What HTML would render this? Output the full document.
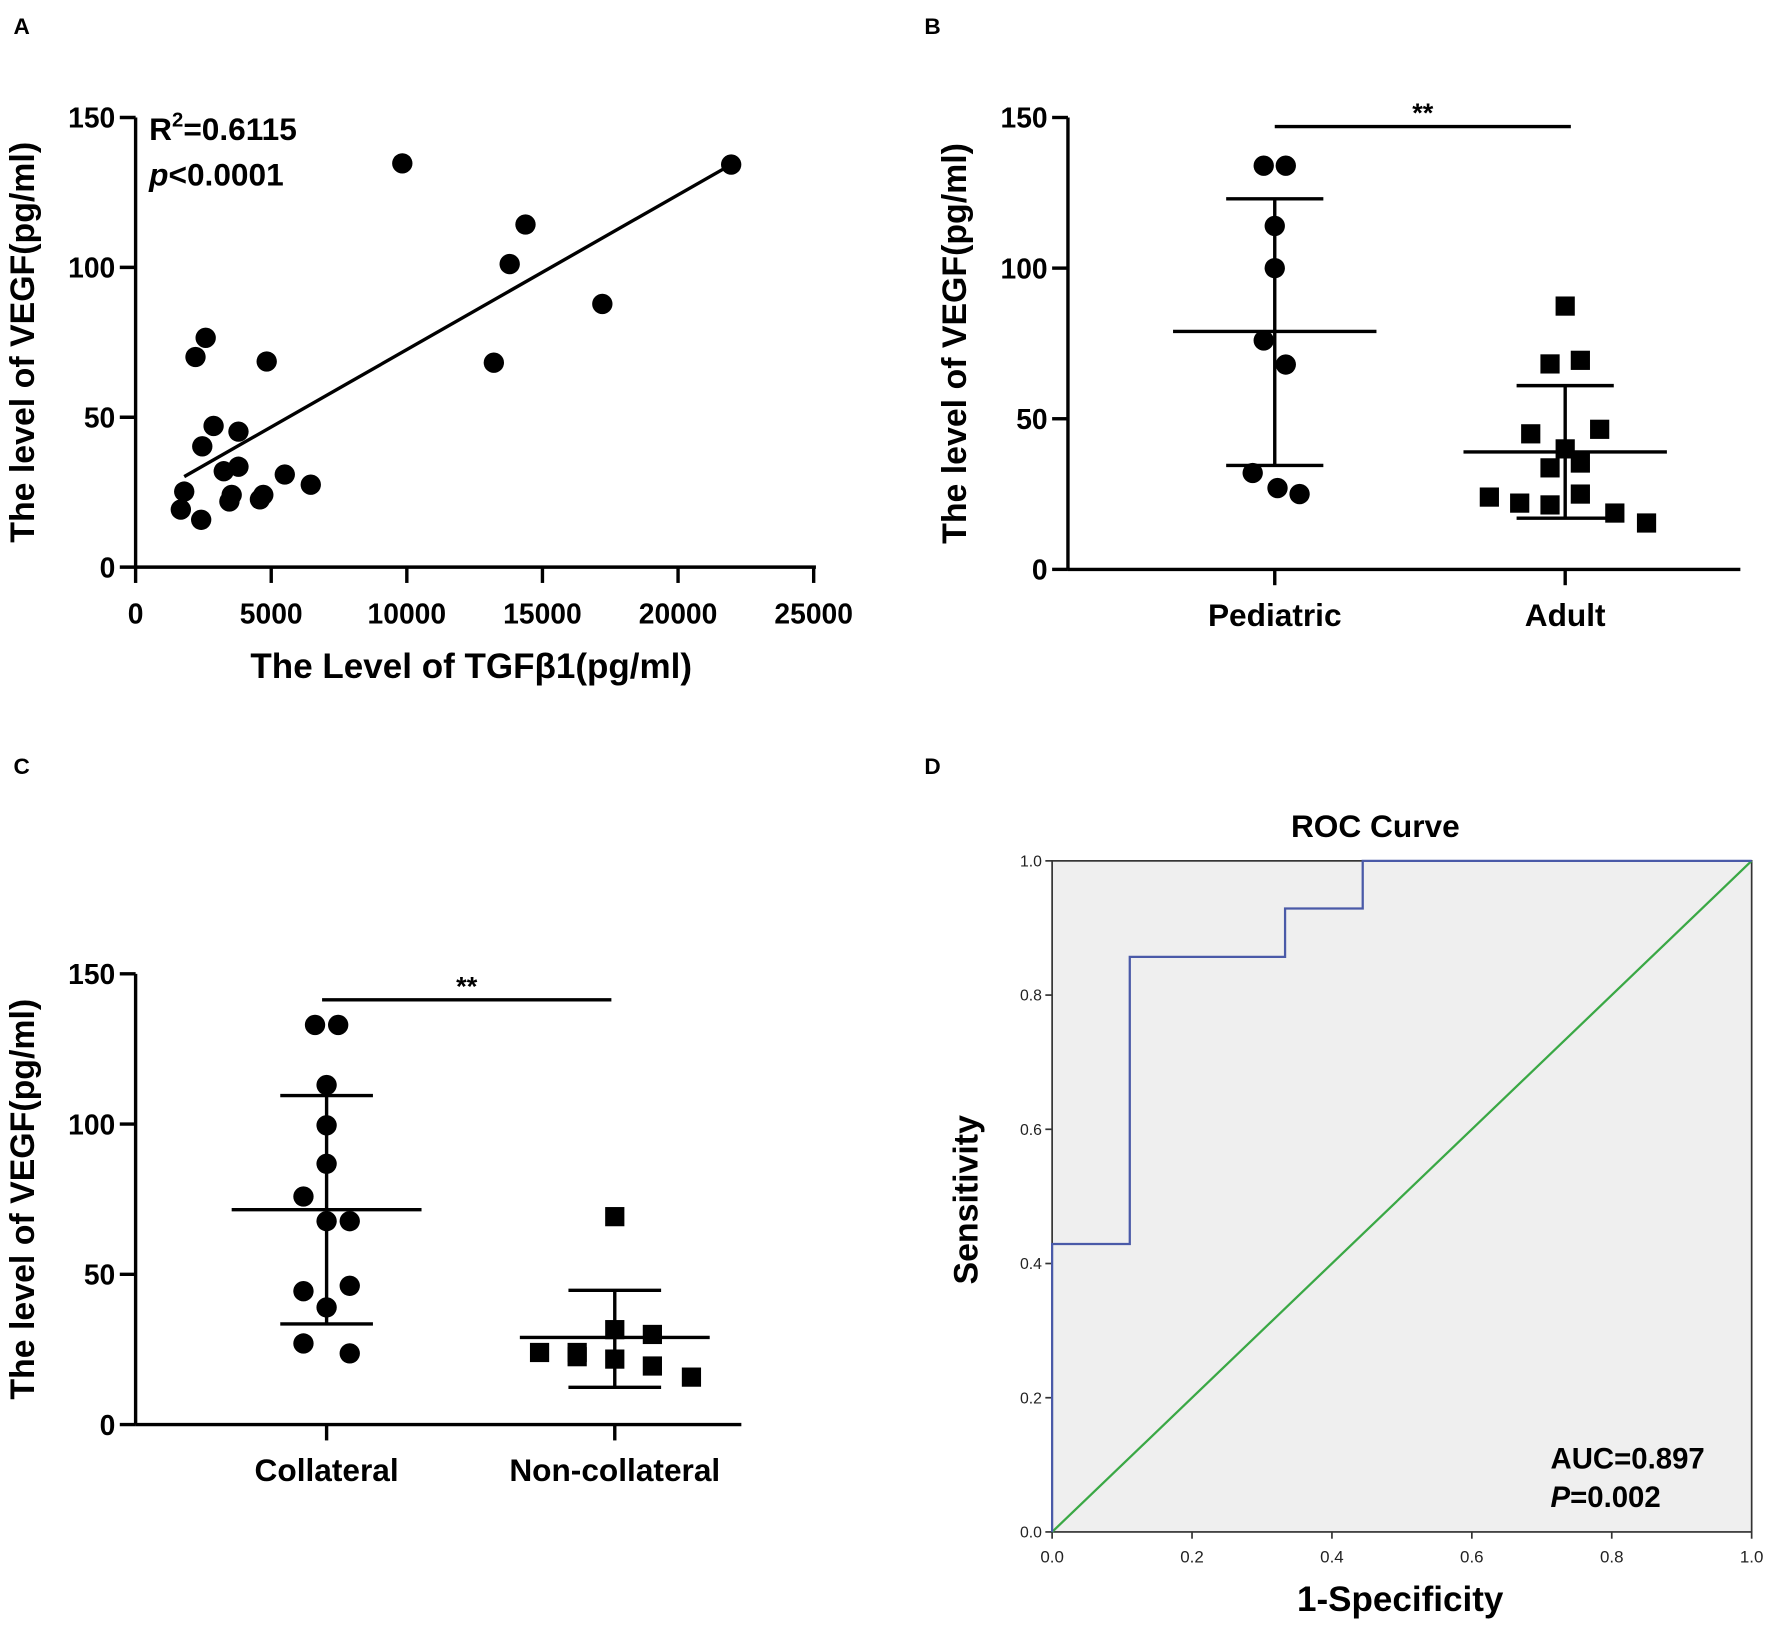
<!DOCTYPE html>
<html><head><meta charset="utf-8"><style>
html,body{margin:0;padding:0;background:#fff;}
svg{display:block;font-family:"Liberation Sans",Arial,sans-serif;}
</style></head><body>
<svg id="fig" width="1772" height="1637" viewBox="0 0 1568 1449" preserveAspectRatio="none" xmlns="http://www.w3.org/2000/svg">
<rect width="1568" height="1449" fill="#fff"/>
<g font-weight="bold" font-size="20">
<text x="12" y="30">A</text>
<text x="818" y="30">B</text>
<text x="12" y="685">C</text>
<text x="818" y="685">D</text>
</g>
<g id="A"></g>
<g id="B"></g>
<g id="C"></g>
<g id="D"></g>
</svg>
<script>
// Panel A data
const aTgf = [9833,21958,14375,13792,17208,2583,2208,4833,13208,2875,3792,2458,3792,3250,5500,6458,1792,3542,4708,3458,4583,1667,2417];
const aVegf = [134.7,134.3,114.3,101.1,87.8,76.5,70.1,68.6,68.2,47.1,45.2,40.3,33.5,32,30.9,27.5,25.2,24.1,24.1,21.9,22.6,19.2,15.8];
const aFitX = [1792,21958];
const aFitY = [30.2,134.3];
const aXTicks = [0,5000,10000,15000,20000,25000];
const vegfTicks = [0,50,100,150];
// Panel B data
const bCats = ["Pediatric","Adult"];
const bPed = [134,134,114,100,76,68,32,27,25];
const bAdult = [87.4,68.2,69.4,45,46.5,40,33.7,35.3,24,22,21.4,25,18.7,15.4];
const bPedX = [-0.08,0.08,0,0,-0.08,0.08,-0.16,0.02,0.18];
const bAdultX = [0,-0.11,0.11,-0.25,0.25,0,-0.11,0.11,-0.55,-0.33,-0.11,0.11,0.36,0.59];
const bMean = [79,39];
const bSdHi = [123,61];
const bSdLo = [34.5,17];
// Panel C data
const cCats = ["Collateral","Non-collateral"];
const cCol = [133,133,113,99.6,86.8,75.9,67.7,67.7,44.4,46.2,39,27,23.7];
const cNon = [69.2,31.6,30,24,24,22.6,21.8,19.5,15.8];
const cColX = [-0.08,0.08,0,0,0,-0.16,0,0.16,-0.16,0.16,0,-0.16,0.16];
const cNonX = [0,0,0.26,-0.52,-0.26,-0.26,0,0.26,0.53];
const cMean = [71.5,29];
const cSdHi = [109.5,44.7];
const cSdLo = [33.5,12.4];
// Panel D data
const rocFpr = [0,0,0.111,0.111,0.333,0.333,0.444,0.444,1];
const rocTpr = [0,0.429,0.429,0.857,0.857,0.929,0.929,1,1];
const dTicks = [0,0.2,0.4,0.6,0.8,1.0];

const NS="http://www.w3.org/2000/svg";
function mk(parent,tag,attrs,text){const e=document.createElementNS(NS,tag);for(const k in attrs)e.setAttribute(k,attrs[k]);if(text!==undefined)e.textContent=text;parent.appendChild(e);return e;}

function vegfAxis(g,x0,y0,yTop,xEnd){
  const sy=v=>y0-(y0-yTop)*v/150;
  let l=mk(g,'line',{x1:x0,y1:yTop,x2:x0,y2:y0,stroke:'#000','stroke-width':3});
  
  
  l=mk(g,'line',{x1:x0,y1:y0,x2:xEnd,y2:y0,stroke:'#000','stroke-width':3});
  
  
  vegfTicks.forEach(v=>{
    mk(g,'line',{x1:x0-14,y1:sy(v),x2:x0,y2:sy(v),stroke:'#000','stroke-width':3});
    const t=mk(g,'text',{x:x0-18,y:sy(v)+9,'text-anchor':'end','font-size':25,'font-weight':'bold'},v);
    
    
  });
  const t=mk(g,'text',{x:0,y:0,transform:`translate(${x0-90},${(y0+yTop)/2}) rotate(-90)`,'text-anchor':'middle','font-size':30,'font-weight':'bold'},'The level of VEGF(pg/ml)');
  
  
  return sy;
}

// Panel A
(function(){
  const g=document.getElementById('A');
  const x0=120,y0=502,yTop=104;
  const sx=v=>x0+v*0.024;
  const sy=vegfAxis(g,x0,y0,yTop,722);
  aXTicks.forEach(v=>{
    mk(g,'line',{x1:sx(v),y1:y0,x2:sx(v),y2:y0+14,stroke:'#000','stroke-width':3});
    const t=mk(g,'text',{x:sx(v),y:y0+50,'text-anchor':'middle','font-size':25,'font-weight':'bold'},v);
    
    
  });
  let t=mk(g,'text',{x:417,y:600,'text-anchor':'middle','font-size':31,'font-weight':'bold'},'The Level of TGFβ1(pg/ml)');
  
  
  t=mk(g,'text',{x:132,y:124,'font-size':28,'font-weight':'bold'});
  t.innerHTML='R<tspan dy="-12" font-size="18">2</tspan><tspan dy="12">=0.6115</tspan>';
  
  
  t=mk(g,'text',{x:132,y:164,'font-size':28,'font-weight':'bold'});
  t.innerHTML='<tspan font-style="italic">p</tspan>&lt;0.0001';
  
  
  const fl=mk(g,'line',{x1:sx(aFitX[0]),y1:sy(aFitY[0]),x2:sx(aFitX[1]),y2:sy(aFitY[1]),stroke:'#000','stroke-width':3});
  
  
  aTgf.forEach((v,i)=>{
    const c=mk(g,'circle',{cx:sx(v),cy:sy(aVegf[i]),r:9,fill:'#000'});
    
    
  });
})();

function groupPanel(g,x0,y0,yTop,xEnd,cx,cats,groups,offs,means,hi,lo,shapes,sig,meanHalf,capHalf,unit){
  const sy=vegfAxis(g,x0,y0,yTop,xEnd);
  cats.forEach((c,i)=>{
    mk(g,'line',{x1:cx[i],y1:y0,x2:cx[i],y2:y0+14,stroke:'#000','stroke-width':3});
    const t=mk(g,'text',{x:cx[i],y:y0+50,'text-anchor':'middle','font-size':28,'font-weight':'bold'},c);
    
    
    groups[i].forEach((v,j)=>{
      const px=cx[i]+offs[i][j]*unit, py=sy(v);
      let m;
      if(shapes[i]==='circle') m=mk(g,'circle',{cx:px,cy:py,r:9,fill:'#000'});
      else m=mk(g,'rect',{x:px-8.5,y:py-8.5,width:17,height:17,fill:'#000'});
      
      
    });
    let l=mk(g,'line',{x1:cx[i]-meanHalf,y1:sy(means[i]),x2:cx[i]+meanHalf,y2:sy(means[i]),stroke:'#000','stroke-width':3});
    
    
    l=mk(g,'line',{x1:cx[i],y1:sy(hi[i]),x2:cx[i],y2:sy(lo[i]),stroke:'#000','stroke-width':3});
    
    
    [hi[i],lo[i]].forEach(v=>{
      const c=mk(g,'line',{x1:cx[i]-capHalf,y1:sy(v),x2:cx[i]+capHalf,y2:sy(v),stroke:'#000','stroke-width':3});
      
      
    });
  });
  let l=mk(g,'line',{x1:sig[0],y1:sig[2],x2:sig[1],y2:sig[2],stroke:'#000','stroke-width':3});
  
  
  const t=mk(g,'text',{x:(sig[0]+sig[1])/2,y:sig[2]-4,'text-anchor':'middle','font-size':24,'font-weight':'bold'},'**');
  
  
}
groupPanel(document.getElementById('B'),945,504,104,1540,[1128,1385],bCats,[bPed,bAdult],[bPedX,bAdultX],bMean,bSdHi,bSdLo,['circle','square'],[1128,1390,112],90,43,122);
groupPanel(document.getElementById('C'),120,1261,862,656,[289,544],cCats,[cCol,cNon],[cColX,cNonX],cMean,cSdHi,cSdLo,['circle','square'],[285,541,885],84,41,128);

// Panel D
(function(){
  const g=document.getElementById('D');
  const L=931,R=1550,T=762,B=1356;
  const sx=v=>L+(R-L)*v, sy=v=>B-(B-T)*v;
  let r=mk(g,'rect',{x:L,y:T,width:R-L,height:B-T,fill:'#efefef',stroke:'#333','stroke-width':1.5});
  
  
  dTicks.forEach(v=>{
    mk(g,'line',{x1:L-6,y1:sy(v),x2:L,y2:sy(v),stroke:'#333','stroke-width':1.5});
    mk(g,'line',{x1:sx(v),y1:B,x2:sx(v),y2:B+6,stroke:'#333','stroke-width':1.5});
    let t=mk(g,'text',{x:L-9,y:sy(v)+5,'text-anchor':'end','font-size':14,fill:'#222'},v.toFixed(1));
    
    
    t=mk(g,'text',{x:sx(v),y:B+27,'text-anchor':'middle','font-size':15,fill:'#222'},v.toFixed(1));
    
    
  });
  let l=mk(g,'line',{x1:sx(0),y1:sy(0),x2:sx(1),y2:sy(1),stroke:'#3aa845','stroke-width':2});
  
  
  const pts=rocFpr.map((v,i)=>sx(v)+','+sy(rocTpr[i])).join(' ');
  l=mk(g,'polyline',{points:pts,fill:'none',stroke:'#4a5aa8','stroke-width':2});
  
  
  let t=mk(g,'text',{x:1217,y:741,'text-anchor':'middle','font-size':28,'font-weight':'bold'},'ROC Curve');
  
  
  t=mk(g,'text',{x:0,y:0,transform:'translate(865,1062) rotate(-90)','text-anchor':'middle','font-size':30,'font-weight':'bold'},'Sensitivity');
  
  
  t=mk(g,'text',{x:1239,y:1426,'text-anchor':'middle','font-size':31,'font-weight':'bold'},'1-Specificity');
  
  
  t=mk(g,'text',{x:1372,y:1300,'font-size':26,'font-weight':'bold'},'AUC=0.897');
  
  
  t=mk(g,'text',{x:1372,y:1334,'font-size':26,'font-weight':'bold'});
  t.innerHTML='<tspan font-style="italic">P</tspan>=0.002';
  
  
})();
</script>
</body></html>
